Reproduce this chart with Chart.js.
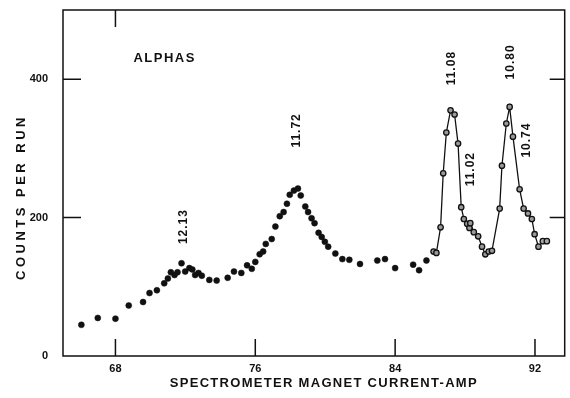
<!DOCTYPE html>
<html>
<head>
<meta charset="utf-8">
<script src="https://cdn.jsdelivr.net/npm/chart.js@4.4.0/dist/chart.umd.min.js"></script>
<style>body{margin:0;background:#fff}</style>
</head>
<body>
<canvas id="chart" width="570" height="398"></canvas>
<script>
var xTicks = [68, 76, 84, 92];
var yTicks = [0, 200, 400];

// counts shown as plain dots
var dotX = [66.05, 66.99, 68.0, 68.76, 69.58, 69.95, 70.37, 70.79, 71.0, 71.17, 71.38, 71.55, 71.78, 71.99,
    72.23, 72.40, 72.56, 72.75, 72.94, 73.37, 73.79, 74.42, 74.78, 75.2, 75.53, 75.8, 76.0, 76.25, 76.45,
    76.6, 76.94, 77.15, 77.4, 77.62, 77.81, 77.97, 78.21, 78.44, 78.6, 78.86, 79.02, 79.22, 79.39, 79.62,
    79.8, 79.98, 80.17, 80.58, 80.98, 81.38, 81.99, 82.98, 83.42, 84.0, 85.03, 85.37, 85.79];
var dotY = [45, 55, 54, 73, 78, 91, 95, 105, 112, 121, 117, 121, 134, 122,
    127, 125, 117, 120, 116, 110, 109, 113, 122, 120, 131, 126, 136, 147, 151,
    162, 169, 187, 202, 208, 220, 233, 239, 242, 232, 216, 208, 199, 192, 178,
    172, 165, 158, 148, 140, 139, 133, 138, 140, 127, 132, 124, 138];

// counts joined by the drawn curve
var lineX = [86.2, 86.36, 86.6, 86.75, 86.93, 87.17, 87.4, 87.6, 87.78, 87.93, 88.12, 88.25, 88.3, 88.5,
    88.75, 88.97, 89.16, 89.35, 89.54, 89.98, 90.11, 90.36, 90.55, 90.74, 91.12, 91.35, 91.6, 91.82,
    91.98, 92.2];
var lineY = [151, 149, 186, 264, 323, 355, 349, 307, 215, 198, 191, 185, 192, 179,
    173, 158, 147, 151, 152, 213, 275, 336, 360, 317, 241, 213, 206, 198,
    176, 158];
var tailX = [92.45, 92.68];
var tailY = [166, 166];

// peak energies written beside the peaks
var peakText = ['12.13', '11.72', '11.08', '11.02', '10.80', '10.74'];
var peakAtX = [71.93, 78.36, 87.25, 88.33, 90.61, 91.52];
var peakAtY = [187, 326, 416, 270, 425, 312];

function pairs(xs, ys) {
    return xs.map(function (x, i) { return { x: x, y: ys[i] }; });
}

var ink = '#111';

var framePlugin = {
    id: 'frame',
    afterDraw: function (chart) {
        var ctx = chart.ctx;
        var a = chart.chartArea;
        var xs = chart.scales.x;
        var ys = chart.scales.y;
        ctx.save();
        ctx.strokeStyle = ink;
        ctx.lineWidth = 1.5;
        ctx.strokeRect(a.left, a.top, a.right - a.left, a.bottom - a.top);
        ctx.beginPath();
        xTicks.forEach(function (v) {
            var px = xs.getPixelForValue(v);
            ctx.moveTo(px, a.bottom);
            ctx.lineTo(px, a.bottom - 17);
        });
        var topX = xs.getPixelForValue(xTicks[0]);
        ctx.moveTo(topX, a.top);
        ctx.lineTo(topX, a.top + 17);
        yTicks.slice(1).forEach(function (v) {
            var py = ys.getPixelForValue(v);
            ctx.moveTo(a.left, py);
            ctx.lineTo(a.left + 18, py);
            ctx.moveTo(a.right, py);
            ctx.lineTo(a.right - 15, py);
        });
        ctx.stroke();

        ctx.fillStyle = ink;
        // peak labels, turned on their side
        ctx.font = 'bold 12px "Liberation Sans"';
        ctx.textAlign = 'center';
        ctx.textBaseline = 'middle';
        ctx.letterSpacing = '1px';
        peakText.forEach(function (t, i) {
            ctx.save();
            ctx.translate(xs.getPixelForValue(peakAtX[i]), ys.getPixelForValue(peakAtY[i]));
            ctx.rotate(-Math.PI / 2);
            ctx.fillText(t, 0, 0);
            ctx.restore();
        });

        ctx.font = 'bold 13px "Liberation Sans"';
        ctx.letterSpacing = '1.5px';
        ctx.textAlign = 'left';
        ctx.fillText('ALPHAS', xs.getPixelForValue(69.03), ys.getPixelForValue(430));

        // axis titles
        ctx.letterSpacing = '1.3px';
        ctx.textAlign = 'center';
        ctx.fillText('SPECTROMETER MAGNET CURRENT-AMP', (a.left + a.right) / 2 + 10, 383);
        ctx.letterSpacing = '3.5px';
        ctx.save();
        ctx.translate(21, 197);
        ctx.rotate(-Math.PI / 2);
        ctx.fillText('COUNTS PER RUN', 0, 0);
        ctx.restore();
        ctx.restore();
    }
};

new Chart(document.getElementById('chart').getContext('2d'), {
    type: 'scatter',
    data: {
        datasets: [{
            data: pairs(dotX, dotY),
            showLine: false,
            pointRadius: 3,
            pointBackgroundColor: ink,
            pointBorderColor: ink,
            pointBorderWidth: 0.5
        }, {
            data: pairs(lineX, lineY),
            showLine: true,
            borderColor: ink,
            borderWidth: 1.3,
            tension: 0,
            pointRadius: 2.7,
            pointBackgroundColor: '#999',
            pointBorderColor: ink,
            pointBorderWidth: 1.3
        }, {
            data: pairs(tailX, tailY),
            showLine: false,
            pointRadius: 2.7,
            pointBackgroundColor: '#aaa',
            pointBorderColor: ink,
            pointBorderWidth: 1.3
        }]
    },
    options: {
        responsive: false,
        animation: false,
        devicePixelRatio: 1,
        layout: { padding: { top: 10, right: 3, left: 0, bottom: 0 } },
        plugins: {
            legend: { display: false },
            tooltip: { enabled: false }
        },
        scales: {
            x: {
                type: 'linear',
                min: 65,
                max: 93.7,
                afterBuildTicks: function (axis) {
                    axis.ticks = xTicks.map(function (v) { return { value: v }; });
                },
                afterFit: function (axis) {
                    axis.height = 42;
                    axis.paddingLeft = 0;
                    axis.paddingRight = 0;
                },
                grid: { display: false, drawTicks: false },
                border: { display: false },
                ticks: {
                    padding: 6,
                    color: ink,
                    font: { family: 'Liberation Sans', size: 11, weight: 'bold' }
                }
            },
            y: {
                min: 0,
                max: 500,
                afterBuildTicks: function (axis) {
                    axis.ticks = yTicks.map(function (v) { return { value: v }; });
                },
                afterFit: function (axis) {
                    axis.width = 63;
                    axis.paddingTop = 0;
                    axis.paddingBottom = 0;
                },
                grid: { display: false, drawTicks: false },
                border: { display: false },
                ticks: {
                    padding: 15,
                    color: ink,
                    font: { family: 'Liberation Sans', size: 11, weight: 'bold' }
                }
            }
        }
    },
    plugins: [framePlugin]
});
</script>
</body>
</html>
